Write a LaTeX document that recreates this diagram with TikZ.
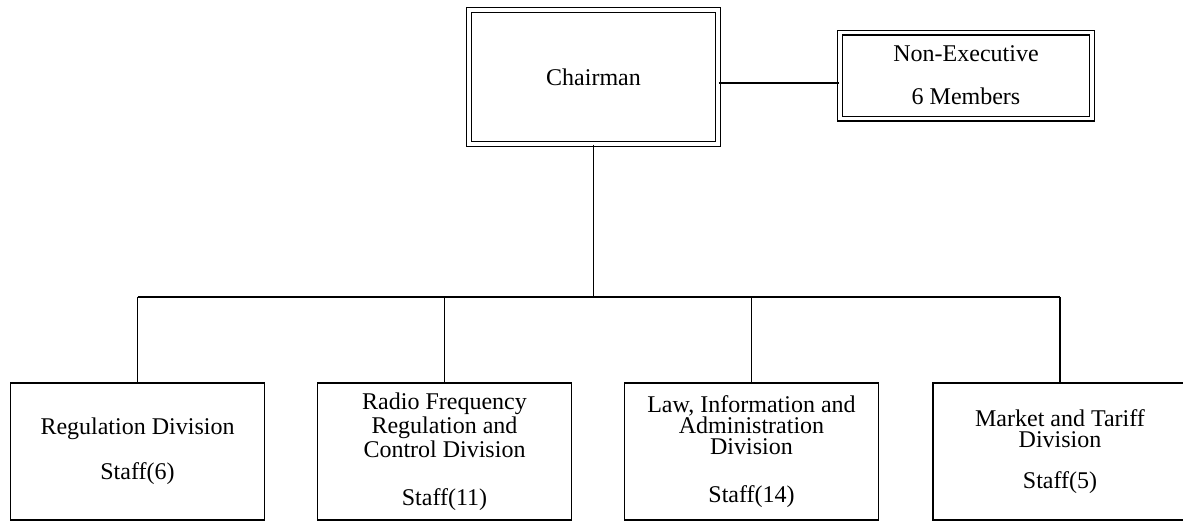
\documentclass[tikz,border=0pt]{standalone}
\usepackage{fontspec}
\setmainfont{Liberation Serif}
\begin{document}
\begin{tikzpicture}[x=0.5pt,y=-0.5pt,
    headbox/.style={draw, double, double distance=1.6pt, line width=0.7pt, align=center, inner sep=0pt, font=\fontsize{12}{10.5}\selectfont},
    divbox/.style={draw, line width=0.7pt, minimum width=127pt, minimum height=68.5pt, align=center, inner sep=0pt, font=\fontsize{12}{10.5}\selectfont},
    link/.style={line width=0.6pt}]
  \useasboundingbox (0,0) rectangle (1183,521);
  % top of the chart
  \node[headbox, minimum width=124.5pt, minimum height=67pt] (chair) at (593.5,77) {Chairman};
  \node[headbox, minimum width=126pt, minimum height=43pt] (nonexec) at (966,75.5) {Non-Executive\\[11pt]6 Members};
  % divisions
  \node[divbox] (reg) at (137.5,451.5) {Regulation Division\\[10.5pt]Staff(6)};
  \node[divbox] (radio) at (444.5,451.5) {Radio Frequency\\Regulation and\\Control Division\\[13.5pt]Staff(11)};
  \node[divbox] (law) at (751.5,451.5) {Law, Information and\\Administration\\Division\\[13.5pt]Staff(14)};
  \node[divbox] (mkt) at (1060,451.5) {Market and Tariff\\Division\\[10pt]Staff(5)};
  \coordinate (bus) at (593,297);
  % connectors
  \draw[link] ([yshift=-3pt]chair.east) -- ([yshift=-3pt]chair.east -| nonexec.west);
  \draw[link] (chair.south) -- (chair.south |- bus);
  \draw[link] (reg.north |- bus) -- (mkt.north |- bus);
  \foreach \d in {reg,radio,law,mkt}
    \draw[link] (\d.north) -- (\d.north |- bus);
\end{tikzpicture}
\end{document}
